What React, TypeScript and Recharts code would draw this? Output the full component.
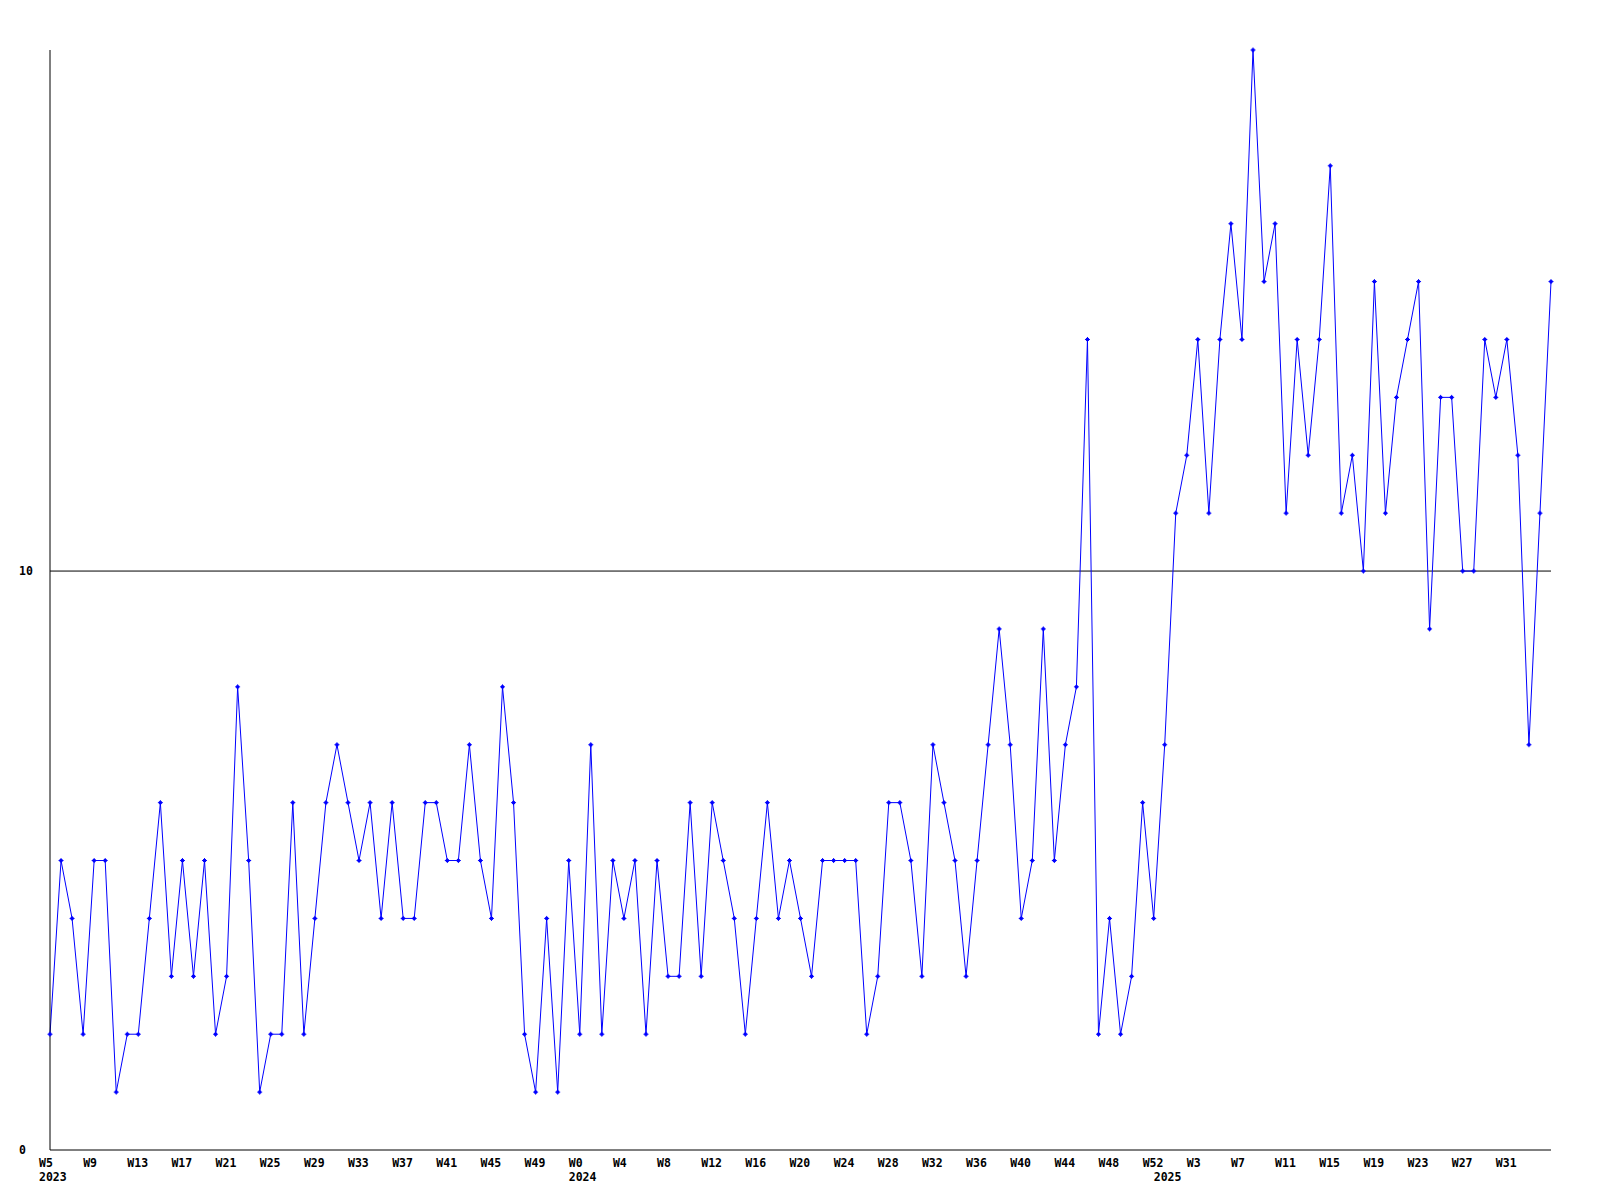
import React from "react";
import { LineChart, Line, XAxis, YAxis, ReferenceLine } from "recharts";

const weeks2023 = ["W5","W6","W7","W8","W9","W10","W11","W12","W13","W14","W15","W16","W17","W18","W19","W20","W21","W22","W23","W24","W25","W26","W27","W28","W29","W30","W31","W32","W33","W34","W35","W36","W37","W38","W39","W40","W41","W42","W43","W44","W45","W46","W47","W48","W49","W50","W51","W52"];
const weeks2024 = ["W0","W1","W2","W3","W4","W5","W6","W7","W8","W9","W10","W11","W12","W13","W14","W15","W16","W17","W18","W19","W20","W21","W22","W23","W24","W25","W26","W27","W28","W29","W30","W31","W32","W33","W34","W35","W36","W37","W38","W39","W40","W41","W42","W43","W44","W45","W46","W47","W48","W49","W50","W51","W52"];
const weeks2025 = ["W0","W1","W2","W3","W4","W5","W6","W7","W8","W9","W10","W11","W12","W13","W14","W15","W16","W17","W18","W19","W20","W21","W22","W23","W24","W25","W26","W27","W28","W29","W30","W31","W32","W33","W34","W35"];

const values2023 = [2,5,4,2,5,5,1,2,2,4,6,3,5,3,5,2,3,8,5,1,2,2,6,2,4,6,7,6,5,6,4,6,4,4,6,6,5,5,7,5,4,8,6,2,1,4,1,5];
const values2024 = [2,7,2,5,4,5,2,5,3,3,6,3,6,5,4,2,4,6,4,5,4,3,5,5,5,5,2,3,6,6,5,3,7,6,5,3,5,7,9,7,4,5,9,5,7,8,14,2,4,2,3,6,4];
const values2025 = [7,11,12,14,11,14,16,14,19,15,16,11,14,12,14,17,11,12,10,15,11,13,14,15,9,13,13,10,10,14,13,14,12,7,11,15];

const years = [2023, 2024, 2025];
const yTicks = [0, 10];

const segments = [
  { year: years[0], weeks: weeks2023, values: values2023 },
  { year: years[1], weeks: weeks2024, values: values2024 },
  { year: years[2], weeks: weeks2025, values: values2025 },
];

const data: { idx: number; week: string; year: string; value: number }[] = [];
segments.forEach((s) => {
  s.weeks.forEach((w, i) => {
    data.push({ idx: data.length, week: w, year: i === 0 ? String(s.year) : "", value: s.values[i] });
  });
});

const FONT = "'DejaVu Sans Mono', monospace";
const FS = 11.5;

const XTick = (props: any) => {
  const { x, y, index } = props;
  const d = data[index];
  if (!d) return null;
  const showWeek = index % 4 === 0 && index !== data.length - 1;
  return (
    <g>
      {showWeek && (
        <text x={x - 11} y={y + 16.5} textAnchor="start" fontFamily={FONT} fontSize={FS} fontWeight="bold" fill="#000">
          {d.week}
        </text>
      )}
      {d.year && (
        <text x={x - 11} y={y + 31} textAnchor="start" fontFamily={FONT} fontSize={FS} fontWeight="bold" fill="#000">
          {d.year}
        </text>
      )}
    </g>
  );
};

const YTick = (props: any) => {
  const { y, payload } = props;
  return (
    <text x={11} y={y} textAnchor="start" dominantBaseline="central" fontFamily={FONT} fontSize={FS} fontWeight="bold" fill="#000">
      {payload.value}
    </text>
  );
};

const Dot = (props: any) => {
  const { cx, cy } = props;
  if (cx == null || cy == null) return null;
  return (
    <g>
      <rect x={cx - 1.5} y={cy - 1.5} width={3} height={3} fill="#0000ff" />
      <rect x={cx - 2.5} y={cy - 0.5} width={5} height={1} fill="#0000ff" />
      <rect x={cx - 0.5} y={cy - 2.5} width={1} height={5} fill="#0000ff" />
    </g>
  );
};

export default function App() {
  return (
    <div style={{ width: 1592, height: 1190, background: "#fff" }}>
      <LineChart width={1592} height={1190} data={data} margin={{ top: 42, right: 49, bottom: 0, left: 0 }}>
        <XAxis
          dataKey="idx"
          type="category"
          interval={0}
          tickLine={false}
          tickSize={0}
          tickMargin={0}
          height={48}
          axisLine={{ stroke: "#000", strokeWidth: 1 }}
          tick={<XTick />}
        />
        <YAxis
          domain={[0, 19]}
          ticks={yTicks}
          width={42}
          tickLine={false}
          axisLine={{ stroke: "#000", strokeWidth: 1 }}
          tick={<YTick />}
        />
        <ReferenceLine y={10} stroke="#000" strokeWidth={1} />
        <Line
          type="linear"
          dataKey="value"
          stroke="#0000ff"
          strokeWidth={1}
          dot={<Dot />}
          activeDot={false}
          isAnimationActive={false}
        />
      </LineChart>
    </div>
  );
}
